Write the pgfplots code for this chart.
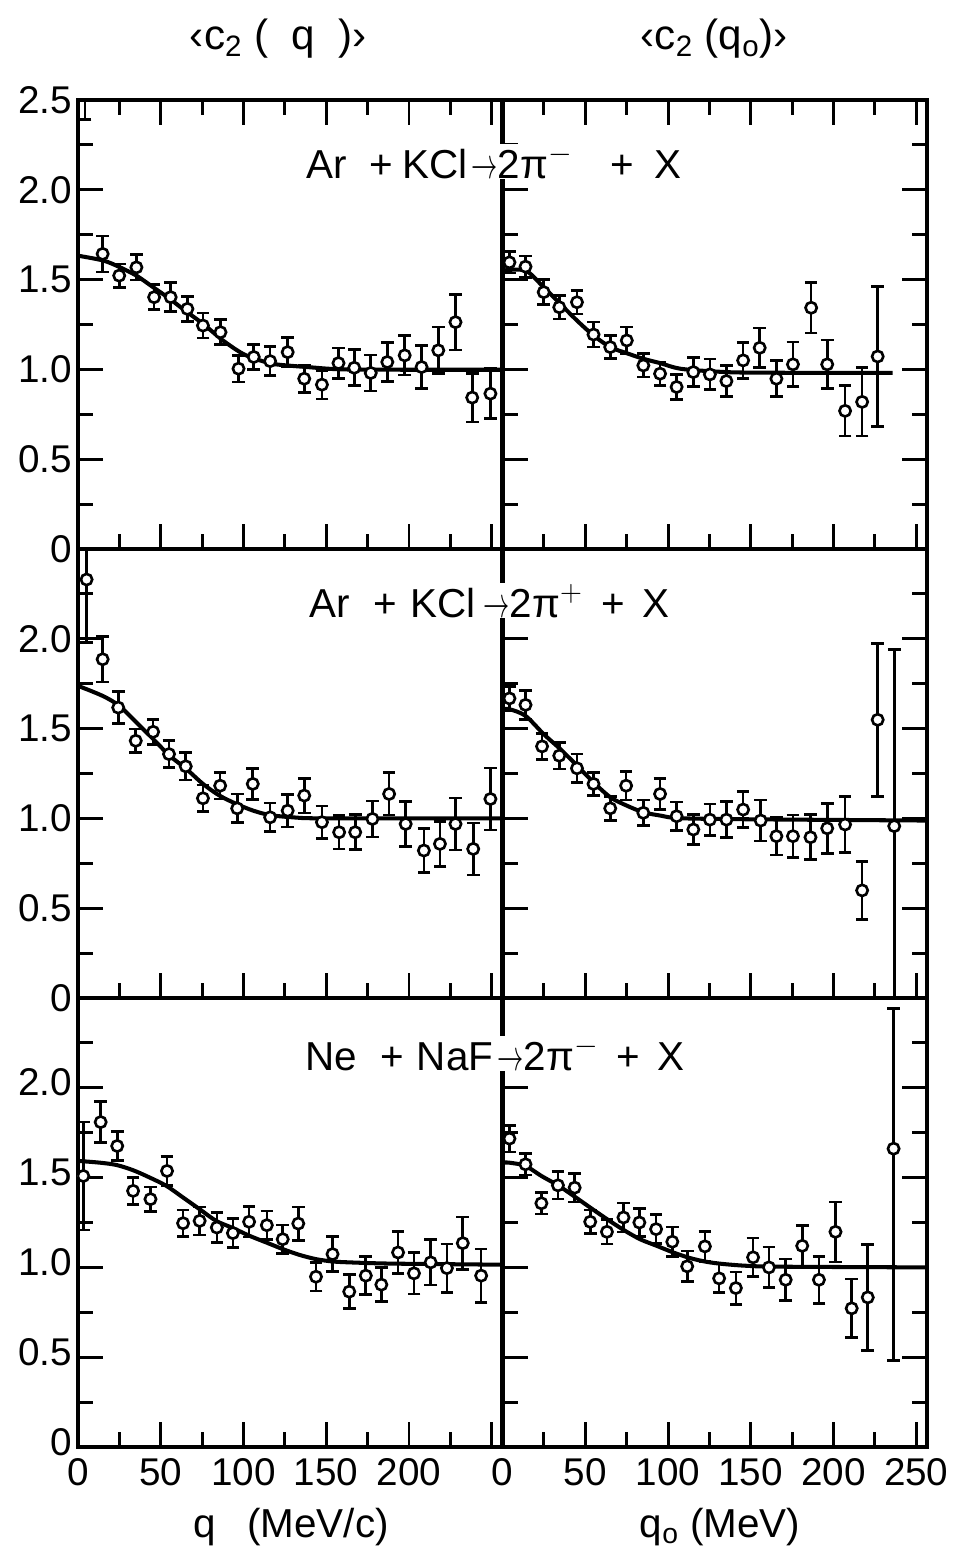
\documentclass[border=0pt]{standalone}
\usepackage{fontspec}
\setmainfont{Liberation Sans}
\usepackage{pgfplots}
\pgfplotsset{compat=1.18}

\pgfplotsset{
  panel/.style={
    scale only axis, width=8.49cm, height=8.98cm,
    xmin=0, xmax=256.5, ymin=0, ymax=2.5,
    axis line style={line width=2.3pt},
    xtick={0,50,100,150,200,250}, minor xtick={25,75,125,175,225},
    ytick={0,0.5,1,1.5,2,2.5}, minor ytick={0.25,0.75,1.25,1.75,2.25},
    xticklabels={}, yticklabels={},
    tick align=inside, major tick length=0.5cm, minor tick length=0.3cm,
    tick style={black, line width=1.7pt},
    tick label style={font=\fontsize{22}{24}\selectfont},
    xticklabel style={yshift=-3pt},
    clip marker paths=true,
  },
  pts/.style={
    only marks, mark=*, mark size=3.2pt,
    mark options={fill=white, draw=black, line width=1.5pt},
    error bars/.cd, y dir=both, y explicit,
    error bar style={line width=1.5pt, black},
    error mark options={black, line width=1.5pt, mark size=3.6pt, rotate=90},
  },
  fit/.style={black, line width=2.3pt, smooth, no marks},
}

\begin{document}
\begin{tikzpicture}
\useasboundingbox (-1.56,-2.24) rectangle (17.66,28.94);

% ---------- top row: Ar + KCl -> 2 pi- + X
\begin{axis}[panel, at={(0cm,17.96cm)}, anchor=south west, xtick pos=both, ytick pos=left,
  yticklabels={0,0.5,1.0,1.5,2.0,2.5}]
\addplot[fit] coordinates {(0,1.633)(15.3,1.606)(25,1.57)(35.3,1.522)(45,1.46)(55.4,1.393)
  (65,1.325)(75.5,1.254)(87.6,1.161)(99.6,1.087)(110,1.05)(119.7,1.028)(139.8,1.012)
  (159.8,1.0)(200,0.998)(256.5,0.998)};
\addplot[pts] table[x=x, y=y, y error=e, row sep=\\] {
x y e\\ 4.2 2.7 0.31\\ 14.9 1.643 0.10\\ 24.9 1.522 0.065\\ 35.3 1.568 0.07\\ 46.0 1.402 0.07\\
56.0 1.402 0.08\\ 66.1 1.337 0.07\\ 75.5 1.244 0.07\\ 86.1 1.207 0.07\\ 97.0 1.004 0.075\\
106.2 1.069 0.07\\ 116.1 1.046 0.08\\ 126.7 1.096 0.08\\ 136.7 0.948 0.075\\ 147.4 0.915 0.08\\
157.4 1.035 0.085\\ 166.9 1.009 0.10\\ 176.9 0.980 0.10\\ 186.9 1.041 0.11\\ 197.4 1.078 0.11\\
207.6 1.013 0.12\\ 217.7 1.106 0.13\\ 228.1 1.263 0.155\\ 238.2 0.843 0.135\\ 249.2 0.865 0.14\\
};
\end{axis}

\begin{axis}[panel, at={(8.49cm,17.96cm)}, anchor=south west, xtick pos=both, ytick pos=both]
\addplot[fit] coordinates {(0,1.55)(13.9,1.55)(24.9,1.457)(34.9,1.365)(45,1.272)(55,1.189)
  (65.1,1.124)(75.1,1.09)(85.1,1.059)(95.2,1.035)(107.2,1.004)(127,0.989)(150,0.982)(235.7,0.98)};
\addplot[pts] table[x=x, y=y, y error=e, row sep=\\] {
x y e\\ 4.2 1.596 0.06\\ 13.9 1.572 0.06\\ 24.9 1.430 0.07\\ 34.3 1.346 0.065\\ 45.0 1.374 0.065\\
55.0 1.194 0.07\\ 65.1 1.124 0.065\\ 75.1 1.161 0.075\\ 85.1 1.022 0.065\\ 95.2 0.976 0.065\\
105.2 0.902 0.07\\ 115.3 0.985 0.08\\ 125.3 0.972 0.085\\ 135.3 0.935 0.085\\ 145.4 1.050 0.10\\
155.4 1.120 0.11\\ 165.5 0.948 0.10\\ 175.5 1.028 0.125\\ 186.5 1.343 0.14\\ 196.2 1.028 0.135\\
207.0 0.769 0.14\\ 217.3 0.819 0.19\\ 226.7 1.072 0.39\\
};
\end{axis}

% ---------- middle row: Ar + KCl -> 2 pi+ + X
\begin{axis}[panel, at={(0cm,8.98cm)}, anchor=south west, xtick pos=bottom, ytick pos=left,
  yticklabels={0,0.5,1.0,1.5,2.0,}]
\addplot[fit] coordinates {(0,1.738)(14.9,1.682)(24.9,1.627)(35.3,1.534)(45.4,1.442)(55.4,1.349)
  (65.5,1.275)(75.5,1.192)(85.5,1.127)(95.6,1.081)(105.6,1.044)(115.7,1.019)(129.7,1.006)
  (149.8,1.0)(256.5,1.0)};
\addplot[pts] table[x=x, y=y, y error=e, row sep=\\] {
x y e\\ 5.2 2.33 0.35\\ 14.9 1.886 0.127\\ 24.3 1.617 0.09\\ 34.9 1.432 0.065\\ 45.4 1.482 0.07\\
55.0 1.358 0.075\\ 65.1 1.290 0.077\\ 75.5 1.112 0.074\\ 85.9 1.182 0.074\\ 96.2 1.056 0.08\\
105.6 1.192 0.086\\ 116.1 1.006 0.08\\ 126.7 1.043 0.09\\ 136.7 1.127 0.096\\ 147.4 0.979 0.09\\
157.8 0.923 0.094\\ 167.5 0.923 0.097\\ 177.9 0.997 0.10\\ 188.0 1.136 0.118\\ 198.0 0.969 0.125\\
209.0 0.821 0.123\\ 218.7 0.858 0.125\\ 228.1 0.969 0.145\\ 238.8 0.830 0.145\\ 249.2 1.108 0.172\\
};
\end{axis}

\begin{axis}[panel, at={(8.49cm,8.98cm)}, anchor=south west, xtick pos=bottom, ytick pos=both]
\addplot[fit] coordinates {(0,1.608)(4.2,1.608)(13.9,1.571)(24.9,1.469)(34.9,1.386)(45,1.294)
  (55,1.201)(65.1,1.118)(75.1,1.071)(85.1,1.034)(95.2,1.016)(107.2,1.001)(150,0.995)(256.5,0.988)};
\addplot[pts] table[x=x, y=y, y error=e, row sep=\\] {
x y e\\ 4.2 1.668 0.067\\ 13.9 1.632 0.08\\ 23.9 1.401 0.072\\ 34.3 1.349 0.075\\ 45.0 1.279 0.08\\
55.0 1.192 0.065\\ 65.1 1.056 0.067\\ 74.7 1.182 0.08\\ 85.1 1.031 0.072\\ 95.2 1.136 0.085\\
105.2 1.012 0.08\\ 115.3 0.938 0.085\\ 125.3 0.993 0.088\\ 135.3 0.993 0.10\\ 145.4 1.049 0.10\\
156.0 0.988 0.114\\ 165.5 0.901 0.104\\ 175.5 0.901 0.117\\ 186.1 0.895 0.125\\ 196.2 0.945 0.139\\
207.0 0.966 0.157\\ 217.3 0.599 0.161\\ 226.7 1.549 0.426\\ 236.7 0.957 0.985\\
};
\end{axis}

% ---------- bottom row: Ne + NaF -> 2 pi- + X
\begin{axis}[panel, at={(0cm,0cm)}, anchor=south west, xtick pos=bottom, ytick pos=left,
  yticklabels={0,0.5,1.0,1.5,2.0,}, xticklabels={0,50,100,150,200},
  yticklabel style={yshift=3pt}]
\addplot[fit] coordinates {(0,1.593)(13.3,1.583)(23.3,1.570)(33.3,1.541)(43.4,1.5)(53.4,1.454)
  (63.5,1.389)(73.5,1.324)(83.5,1.259)(93.6,1.219)(103.6,1.176)(113.7,1.139)(123.7,1.102)
  (133.7,1.070)(143.8,1.046)(153.8,1.033)(163.9,1.028)(184,1.022)(210,1.019)(256.5,1.015)};
\addplot[pts] table[x=x, y=y, y error=e, row sep=\\] {
x y e\\ 3.2 1.509 0.30\\ 13.7 1.809 0.115\\ 23.7 1.676 0.08\\ 33.3 1.426 0.075\\ 43.8 1.380 0.068\\
53.8 1.537 0.08\\ 63.5 1.246 0.074\\ 73.5 1.259 0.078\\ 83.9 1.222 0.083\\ 93.6 1.191 0.08\\
103.4 1.254 0.085\\ 114.1 1.235 0.08\\ 123.7 1.157 0.08\\ 133.1 1.244 0.093\\ 143.8 0.948 0.08\\
153.8 1.074 0.097\\ 163.9 0.865 0.094\\ 173.9 0.954 0.105\\ 183.3 0.904 0.094\\ 193.4 1.083 0.118\\
203.0 0.967 0.115\\ 213.1 1.028 0.127\\ 222.9 0.996 0.134\\ 232.5 1.135 0.146\\ 243.6 0.954 0.148\\
};
\end{axis}

\begin{axis}[panel, at={(8.49cm,0cm)}, anchor=south west, xtick pos=bottom, ytick pos=both,
  xticklabels={0,50,100,150,200,250}]
\addplot[fit] coordinates {(0,1.583)(4.2,1.583)(13.9,1.565)(23.5,1.509)(33.5,1.457)(43.6,1.394)
  (53,1.333)(63.1,1.269)(73.1,1.209)(83.1,1.157)(93.2,1.120)(103.2,1.083)(113.3,1.052)
  (123.3,1.031)(133.3,1.019)(147.4,1.009)(167.5,1.004)(256.5,1.0)};
\addplot[pts] table[x=x, y=y, y error=e, row sep=\\] {
x y e\\ 4.2 1.717 0.074\\ 13.9 1.574 0.06\\ 23.5 1.357 0.06\\ 33.5 1.457 0.077\\ 43.6 1.444 0.08\\
53.0 1.254 0.065\\ 63.1 1.198 0.067\\ 73.1 1.278 0.08\\ 82.7 1.250 0.079\\ 92.8 1.213 0.081\\
102.6 1.143 0.082\\ 111.6 1.006 0.086\\ 122.3 1.117 0.083\\ 130.9 0.939 0.08\\ 141.0 0.885 0.09\\
151.4 1.056 0.108\\ 161.0 1.000 0.113\\ 171.1 0.931 0.115\\ 181.1 1.120 0.115\\ 191.2 0.931 0.131\\
201.2 1.198 0.167\\ 211.0 0.772 0.164\\ 220.7 0.833 0.296\\
};
\addplot[pts] coordinates {(236.3,1.661) += (0,0.78) -= (0,1.18)};
\end{axis}

% ---------- texts, placed in pixel units of the reference
\begin{scope}[shift={(-1.56,28.94)}, x=0.02cm, y=-0.02cm,
  every node/.style={font=\fontsize{23}{26}\selectfont, anchor=base, inner sep=0pt}]
\node at (278,50) {\fontsize{24}{26}\selectfont ‹c\textsubscript{2} (\hspace{0.55em}q\hspace{0.55em})›};
\node at (714,50) {\fontsize{24}{26}\selectfont ‹c\textsubscript{2} (q\textsubscript{o})›};
% top panel
\node at (327,178) {Ar};
\node at (381,178) {+};
\node at (435,178) {KCl};
\node[fill=white, inner sep=0.5pt] at (522,178) {\scalebox{0.6}[1]{$\rightarrow$}2π$^{-}$};
\node at (622,178) {+};
\node at (668,178) {X};
% middle panel
\node at (330,617) {Ar};
\node at (385,617) {+};
\node at (443,617) {KCl};
\node[fill=white, inner sep=0.5pt] at (533,617) {\scalebox{0.6}[1]{$\rightarrow$}2π$^{+}$};
\node at (613,617) {+};
\node at (656,617) {X};
% bottom panel
\node at (331,1070) {Ne};
\node at (392,1070) {+};
\node at (455,1070) {NaF};
\node[fill=white, inner sep=0.5pt] at (548,1070) {\scalebox{0.6}[1]{$\rightarrow$}2π$^{-}$};
\node at (628,1070) {+};
\node at (671,1070) {X};
% axis titles
\node at (205,1537) {q};
\node at (318,1537) {(MeV/c)};
\node at (720,1537) {q\textsubscript{o} (MeV)};
\end{scope}
\end{tikzpicture}
\end{document}
